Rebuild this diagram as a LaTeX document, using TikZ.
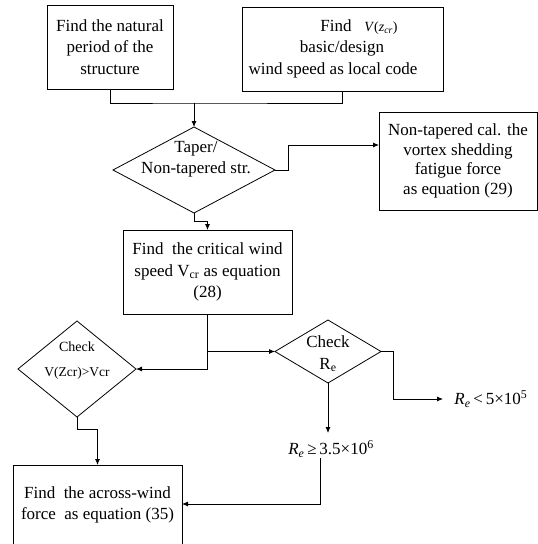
\documentclass[tikz,border=0pt]{standalone}
\usepackage{fontspec}
\setmainfont{Liberation Serif}
\usetikzlibrary{shapes.geometric,arrows.meta}
\newcommand{\fs}[2]{\fontsize{#1}{#2}\selectfont}
\begin{document}
\begin{tikzpicture}[x=1pt,y=-1pt,
  line width=0.8pt,
  boxnode/.style={draw,rectangle,inner sep=0pt,outer sep=0pt},
  decnode/.style={draw,diamond,inner sep=0pt,outer sep=0pt},
  txt/.style={inner sep=0pt,align=center,font=\fs{17}{21.5}},
  arr/.style={-{Latex[length=6pt,width=5pt]}}]
\useasboundingbox (0,0) rectangle (538,544);
\clip (0,0) rectangle (538,544);

% process boxes
\node[boxnode,minimum width=126pt,minimum height=84pt] (b1) at (110,47) {};
\node[boxnode,minimum width=201pt,minimum height=84pt] (b2) at (342.5,49) {};
\node[boxnode,minimum width=158pt,minimum height=98pt] (b3) at (458,161) {};
\node[boxnode,minimum width=169pt,minimum height=84pt] (b4) at (207.5,272) {};
\node[boxnode,minimum width=169pt,minimum height=105pt] (b5) at (97.5,517.5) {};

% decisions
\node[decnode,minimum width=162pt,minimum height=86pt] (d1) at (194,170) {};
\node[decnode,minimum width=118pt,minimum height=96pt] (d2) at (77,369) {};
\node[decnode,minimum width=106pt,minimum height=63pt] (d3) at (328,351.5) {};

% texts
\node[txt] (t1) at (110,47) {Find the natural\\period of the\\structure};
\node[txt] (t2) at (342,48.5) {\hspace*{34pt}Find~~~{\fs{14}{21.5}\textit{V}(\textit{z}\textsubscript{\textit{cr}})}\\basic/design\\wind speed as local code\hspace*{18pt}};
\node[txt,font=\fs{17}{19.5}] (t3) at (458,161) {Non-tapered cal. the\\vortex shedding\\fatigue force\\as equation (29)};
\node[txt] (t4) at (207.5,272) {Find~~the critical wind\\speed V\textsubscript{cr} as equation\\(28)};
\node[txt] (t5) at (97.5,505) {Find~~the across-wind\\force~~as equation (35)};
\node[txt] (td1) at (196,159) {Taper/\\Non-tapered str.};
\node[txt,font=\fs{14}{25}] (td2) at (77,360.5) {Check\\{\fs{13.5}{25}V(Zcr)>Vcr}};
\node[txt] (td3) at (328,354) {Check\\R\textsubscript{e}};

% outcome labels
\node[txt,anchor=west] (lt) at (454,399) {\textit{R}\textsubscript{\textit{e}}\,<\,5×10\textsuperscript{5}};
\node[txt] (ge) at (331,449) {\textit{R}\textsubscript{\textit{e}}\,≥\,3.5×10\textsuperscript{6}};

% connectors
\coordinate (j) at (194,103);
\draw (b1.south) |- (j) -| (b2.south);
\draw[arr] (j) -- (d1.north);
\draw[arr] (d1.east) -- ++(13,0) |- ([yshift=16pt]b3.west);
\draw[arr] (d1.south) -- ++(0,8) -| (b4.north);
\draw[arr] (b4.south) |- (d2.east);
\draw[arr] (b4.south |- d3.west) -- (d3.west);
\draw[arr] (d2.south) -- ++(0,12) -| (b5.north);
\draw[arr] (d3.south) -- (d3.south |- 0,433);
\draw[arr] (d3.east) -- ++(12,0) |- ([xshift=-11pt]lt.west);
\draw[arr] ([xshift=-11pt]ge.south) |- (b5.east |- 0,504);
\end{tikzpicture}
\end{document}
